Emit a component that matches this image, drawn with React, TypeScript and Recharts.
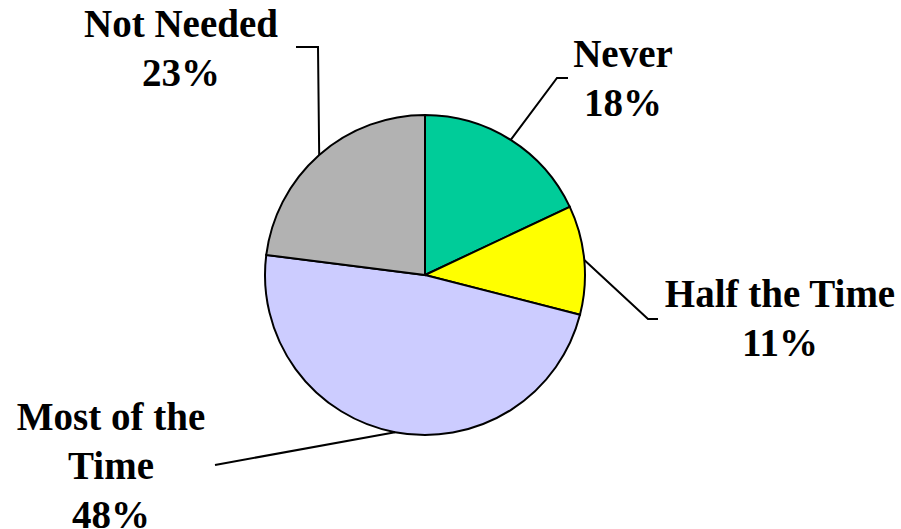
import { PieChart, Pie, Cell } from "recharts";

const categories = ["Never", "Half the Time", "Most of the Time", "Not Needed"];
const shares = [18, 11, 48, 23];
const labelLines = [["Never"], ["Half the Time"], ["Most of the", "Time"], ["Not Needed"]];
const colors = ["#00CC99", "#FFFF00", "#CCCCFF", "#B2B2B2"];

// where each label sits: leader elbow, tick end, text centre and first baseline
const labelLayout = [
  { elbow: [557, 78], tick: [568, 78], tx: 623, ty: 67 },
  { elbow: [648, 319], tick: [658, 319], tx: 780, ty: 307 },
  { elbow: [215, 465], tick: [215, 465], tx: 111, ty: 430 },
  { elbow: [318, 47], tick: [296, 47], tx: 181, ty: 37 },
];

const chartData = categories.map((name, i) => ({ name, value: shares[i] }));

const RAD = Math.PI / 180;
const LINE_H = 49;

const renderLabel = (props: any) => {
  const { cx, cy, midAngle, outerRadius, index, value } = props;
  const sx = cx + outerRadius * Math.cos(-midAngle * RAD);
  const sy = cy + outerRadius * Math.sin(-midAngle * RAD);
  const l = labelLayout[index];
  const lines = [...labelLines[index], `${value}%`];
  return (
    <g key={`lbl-${index}`}>
      <polyline
        points={`${sx},${sy} ${l.elbow[0]},${l.elbow[1]} ${l.tick[0]},${l.tick[1]}`}
        fill="none"
        stroke="#000"
        strokeWidth={2}
      />
      <text
        x={l.tx}
        y={l.ty}
        textAnchor="middle"
        fontFamily="'Liberation Serif', serif"
        fontWeight="bold"
        fontSize={39}
        fill="#000"
      >
        {lines.map((t, i) => (
          <tspan key={i} x={l.tx} y={l.ty + i * LINE_H}>
            {t}
          </tspan>
        ))}
      </text>
    </g>
  );
};

const App = () => {
  return (
    <div style={{ position: "absolute", left: 0, top: 0, width: 901, height: 529, background: "#fff" }}>
      <PieChart width={901} height={529} margin={{ top: 0, right: 0, bottom: 0, left: 0 }}>
        <Pie
          data={chartData}
          dataKey="value"
          nameKey="name"
          cx={425}
          cy={275}
          outerRadius={160}
          startAngle={90}
          endAngle={-270}
          stroke="#000"
          strokeWidth={2}
          label={renderLabel}
          labelLine={false}
          isAnimationActive={false}
        >
          {chartData.map((entry, index) => (
            <Cell key={`cell-${index}`} fill={colors[index]} />
          ))}
        </Pie>
      </PieChart>
    </div>
  );
};

export default App;
